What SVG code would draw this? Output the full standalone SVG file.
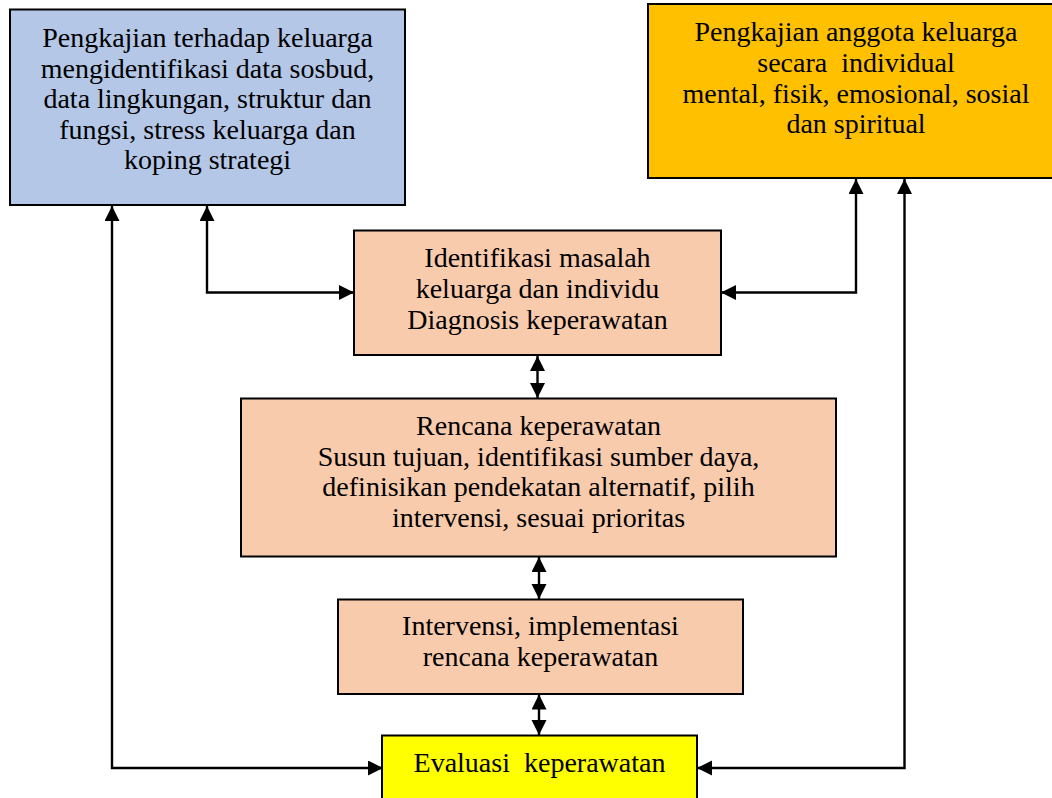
<svg xmlns="http://www.w3.org/2000/svg" width="1052" height="798" viewBox="0 0 1052 798">
<defs>
<style>
.box{stroke:#000;stroke-width:2}
.t{font-family:"Liberation Serif","Times New Roman",serif;font-size:28px;fill:#000;text-anchor:middle}
.c{fill:none;stroke:#000;stroke-width:2.4}
</style>
<marker id="ah" markerUnits="userSpaceOnUse" markerWidth="16" markerHeight="16" refX="15" refY="7.5" orient="auto-start-reverse">
<path d="M0,0 L15,7.5 L0,15 z" fill="#000"/>
</marker>
</defs>
<rect width="1052" height="798" fill="#fff"/>
<g id="connectors">
<path class="c" d="M383,768 H112 V206" marker-start="url(#ah)" marker-end="url(#ah)"/>
<path class="c" d="M354,292.5 H207 V206" marker-start="url(#ah)" marker-end="url(#ah)"/>
<path class="c" d="M721,292.5 H856 V179" marker-start="url(#ah)" marker-end="url(#ah)"/>
<path class="c" d="M697,768 H904.5 V179" marker-start="url(#ah)" marker-end="url(#ah)"/>
<path class="c" d="M537.5,356 V398" marker-start="url(#ah)" marker-end="url(#ah)"/>
<path class="c" d="M539,557 V599" marker-start="url(#ah)" marker-end="url(#ah)"/>
<path class="c" d="M539,694.5 V735" marker-start="url(#ah)" marker-end="url(#ah)"/>
</g>
<g id="node-keluarga">
<rect class="box" x="10" y="9.5" width="395" height="195.5" fill="#B4C7E7"/>
<text class="t" x="207.5" y="47">Pengkajian terhadap keluarga</text>
<text class="t" x="207.5" y="77.5">mengidentifikasi data sosbud,</text>
<text class="t" x="207.5" y="108">data lingkungan, struktur dan</text>
<text class="t" x="207.5" y="138.5">fungsi, stress keluarga dan</text>
<text class="t" x="207.5" y="169">koping strategi</text>
</g>
<g id="node-individu">
<rect class="box" x="648" y="4" width="416" height="174" fill="#FFC000"/>
<text class="t" x="856" y="41" xml:space="preserve">Pengkajian anggota keluarga</text>
<text class="t" x="856" y="72" xml:space="preserve">secara  individual</text>
<text class="t" x="856" y="102.5">mental, fisik, emosional, sosial</text>
<text class="t" x="856" y="133">dan spiritual</text>
</g>
<g id="node-diagnosis">
<rect class="box" x="354" y="230.5" width="367" height="124.5" fill="#F8CBAD"/>
<text class="t" x="537.5" y="267">Identifikasi masalah</text>
<text class="t" x="537.5" y="297.5">keluarga dan individu</text>
<text class="t" x="537.5" y="329">Diagnosis keperawatan</text>
</g>
<g id="node-rencana">
<rect class="box" x="241" y="398.5" width="595" height="158" fill="#F8CBAD"/>
<text class="t" x="538.5" y="434.5">Rencana keperawatan</text>
<text class="t" x="538.5" y="465.5">Susun tujuan, identifikasi sumber daya,</text>
<text class="t" x="538.5" y="496">definisikan pendekatan alternatif, pilih</text>
<text class="t" x="538.5" y="527">intervensi, sesuai prioritas</text>
</g>
<g id="node-intervensi">
<rect class="box" x="338" y="599.5" width="405" height="94.5" fill="#F8CBAD"/>
<text class="t" x="540.5" y="635">Intervensi, implementasi</text>
<text class="t" x="540.5" y="665.5">rencana keperawatan</text>
</g>
<g id="node-evaluasi">
<rect class="box" x="382" y="735.5" width="315" height="80" fill="#FFFF00"/>
<text class="t" x="539.5" y="772" xml:space="preserve">Evaluasi  keperawatan</text>
</g>
</svg>
